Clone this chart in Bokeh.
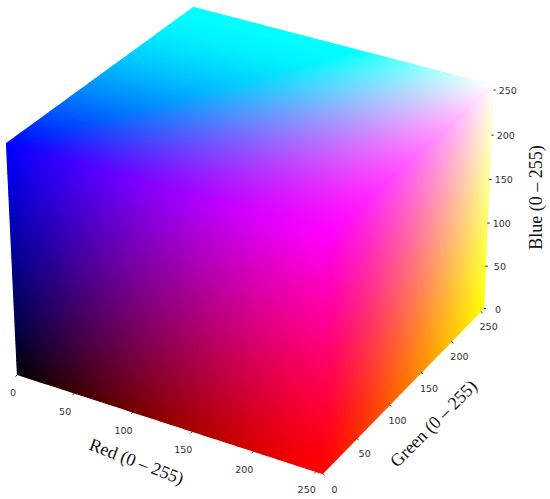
import numpy as np
from bokeh.plotting import figure
from bokeh.models import Range1d, ColumnDataSource
from bokeh.core.properties import value
from bokeh.embed import file_html
from bokeh.resources import INLINE

# axis content
red_ticks = [0, 50, 100, 150, 200, 250]
green_ticks = [0, 50, 100, 150, 200, 250]
blue_ticks = [0, 50, 100, 150, 200, 250]
axis_max = 255
red_title = "Red (0 \u2013 255)"
green_title = "Green (0 \u2013 255)"
blue_title = "Blue (0 \u2013 255)"

# projected corners of the cube
v_black = (17, 374)
v_red = (322, 473)
v_blue = (6, 143)
v_magenta = (326, 233)
v_yellow = (483, 308)
v_white = (493, 85)
v_cyan = (193, 7)
v_crease = (358, 50)   # where the shading crease of the top face meets its far edge

# tone response
R_CURVE = 1.2
G_CURVE = 1.6
G_GAMMA_FAR = 1.3
G_GAMMA_NEAR = 1.1
B_GAMMA_DARK = 0.85
B_GAMMA_RED = 1.25
B_GAMMA_YELLOW = 1.0

N = 64


def homography(q):
    A, b = [], []
    for (u, v), (x, y) in zip([(0, 0), (1, 0), (1, 1), (0, 1)], q):
        A.append([u, v, 1, 0, 0, 0, -u * x, -v * x]); b.append(x)
        A.append([0, 0, 0, u, v, 1, -u * y, -v * y]); b.append(y)
    h = np.linalg.solve(np.array(A, float), np.array(b, float))
    H = np.append(h, 1).reshape(3, 3)

    def f(u, v):
        w = H[2, 0] * u + H[2, 1] * v + 1
        return ((H[0, 0] * u + H[0, 1] * v + H[0, 2]) / w,
                (H[1, 0] * u + H[1, 1] * v + H[1, 2]) / w)
    return f


def hexc(c):
    return "#%02x%02x%02x" % tuple(int(round(255 * min(1, max(0, k)))) for k in c)


def cells(f, colour):
    xs, ys, cs = [], [], []
    for i in range(N):
        for j in range(N):
            u0, u1, v0, v1 = i / N, (i + 1) / N, j / N, (j + 1) / N
            pts = [f(u0, v0), f(u1, v0), f(u1, v1), f(u0, v1)]
            xs.append([a[0] for a in pts]); ys.append([a[1] for a in pts])
            cs.append(hexc(colour((u0 + u1) / 2, (v0 + v1) / 2)))
    return xs, ys, cs


front = homography([v_black, v_red, v_magenta, v_blue])
right = homography([v_red, v_yellow, v_white, v_magenta])
top = homography([v_blue, v_magenta, v_white, v_cyan])

# position of the crease along the far edge of the top face
grid = np.linspace(0, 1, 2001)
rc = grid[np.argmin([(top(t, 1)[0] - v_crease[0]) ** 2 + (top(t, 1)[1] - v_crease[1]) ** 2 for t in grid])]


def r_tone(r):
    return 1 - (1 - r) ** R_CURVE


def g_tone(g):
    return 1 - (1 - g) ** G_CURVE


def front_colour(r, b):
    gamma = B_GAMMA_DARK + (B_GAMMA_RED - B_GAMMA_DARK) * r
    return (r_tone(r), 0, b ** gamma)


def right_colour(g, b):
    gamma = B_GAMMA_RED + (B_GAMMA_YELLOW - B_GAMMA_RED) * g
    return (1, g ** (G_GAMMA_NEAR + (G_GAMMA_FAR - G_GAMMA_NEAR) * b), b ** gamma)


def top_colour(r, g):
    rr = max(0, (r - rc * g) / (1 - rc * g))
    return (r_tone(rr), (1 - rr) * g_tone(g) + rr * g ** G_GAMMA_FAR, 1)


p = figure(width=550, height=499, output_backend="svg", toolbar_location=None,
           x_range=Range1d(0, 550), y_range=Range1d(499, 0),
           x_axis_type=None, y_axis_type=None, min_border=0)
p.grid.visible = False
p.outline_line_color = None
p.background_fill_color = "white"

xs, ys, cs = [], [], []
for f, col in [(front, front_colour), (right, right_colour), (top, top_colour)]:
    fx, fy, fc = cells(f, col)
    xs += fx; ys += fy; cs += fc
p.patches("xs", "ys", source=ColumnDataSource(dict(xs=xs, ys=ys, c=cs)),
          fill_color="c", line_color="c", line_width=1.2)

# axes, projected through the faces that hold their edges
axes = [
    (red_ticks, lambda t: front(t / axis_max, 0), (-9.5, 18), (-2, 2), (5, 0)),
    (green_ticks, lambda t: right(t / axis_max, 0), (8, 15.5), (2, 1.5), (4, 0)),
    (blue_ticks, lambda t: right(1, t / axis_max), (14.5, 0.5), (2.5, 0), (0, 0)),
]
tick_color = "#333333"
for ticks, pos, off, tk, zero in axes:
    pts = [pos(t) for t in ticks]
    x0 = [a[0] for a in pts]; y0 = [a[1] for a in pts]
    p.segment(x0, y0, [a + tk[0] for a in x0], [a + tk[1] for a in y0],
              line_color=tick_color, line_width=1)
    lx = [a + off[0] + (zero[0] if t == 0 else 0) for a, t in zip(x0, ticks)]
    ly = [a + off[1] + (zero[1] if t == 0 else 0) for a, t in zip(y0, ticks)]
    p.text(lx, ly, text=[str(t) for t in ticks], text_align="center", text_baseline="middle",
           text_font=value("DejaVu Sans"), text_font_size="9.5px", text_color=tick_color)

for txt, cx, cy, ang in [(red_title, 136, 461, -21), (green_title, 433, 423, 45), (blue_title, 535, 197, 90)]:
    p.text([cx], [cy], text=[txt], angle=ang, angle_units="deg", text_align="center",
           text_baseline="middle", text_font=value("Liberation Serif"), text_font_size="18px",
           text_color="#111111")

open("out.html", "w").write(file_html(p, INLINE))
